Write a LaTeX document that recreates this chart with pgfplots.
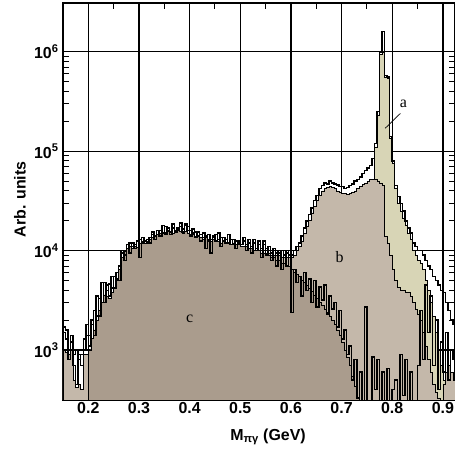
\documentclass[border=0pt]{standalone}
\usepackage{fontspec}
\setmainfont{Liberation Sans}
\newfontfamily\serifletters{Liberation Serif}
\usepackage{pgfplots}
\pgfplotsset{compat=1.18}
\definecolor{fillA}{RGB}{216,213,182}
\definecolor{fillB}{RGB}{196,184,170}
\definecolor{fillC}{RGB}{170,156,141}

\begin{document}
\begin{tikzpicture}
\begin{axis}[
  scale only axis, width=392bp, height=397bp,
  xmin=0.15, xmax=0.924,
  ymode=log, ymin=315, ymax=3.1e6,
  xtick={0.2,0.3,0.4,0.5,0.6,0.7,0.8,0.9},
  minor x tick num=1,
  ytick={1000,10000,100000,1000000},
  yticklabels={10\textsuperscript{3},10\textsuperscript{4},10\textsuperscript{5},10\textsuperscript{6}},
  grid=major,
  major grid style={black, line width=1.3bp},
  axis line style={line width=1.5bp},
  tick style={black, line width=1bp},
  major tick length=8bp, minor tick length=6bp,
  tick align=inside,
  ticklabel style={font=\bfseries\fontsize{16}{17}\selectfont},
  /pgf/number format/assume math mode=true,
  xticklabel style={/pgf/number format/fixed, /pgf/number format/precision=1, yshift=1bp},
  yticklabel style={xshift=-1bp},
  xlabel={M\textsubscript{πγ} (GeV)},
  ylabel={Arb. units},
  label style={font=\bfseries\fontsize{16}{17}\selectfont},
  xlabel style={at={(axis description cs:0.523,0)}, anchor=north, yshift=-25bp},
  ylabel style={at={(axis description cs:-0.11,0.505)}, anchor=center},
  every axis plot/.append style={const plot},
]
\coordinate (sw) at (rel axis cs:0,0);
\coordinate (ne) at (rel axis cs:1,1);

% a: narrow peak
\addplot[fill=fillA, draw=black, line width=0.6bp] coordinates {
(0.750,10000)(0.755,20000)(0.760,50000)(0.765,110000)(0.770,230000)(0.775,950000)(0.780,1000000)(0.785,560000)(0.790,540000)(0.795,135000)(0.800,75000)(0.805,42000)(0.810,30000)(0.815,25000)(0.820,21000)(0.825,18000)(0.830,15000)(0.835,13000)(0.840,10000)(0.845,9000)(0.850,8000)(0.855,7500)(0.860,6500)(0.865,5000)(0.870,4000)(0.875,3000)(0.880,2200)(0.885,1500)(0.890,1000)(0.895,700)(0.900,500)(0.905,400)(0.910,400)
} \closedcycle;

% b: total background + shoulder
\addplot[fill=fillB, draw=black, line width=0.6bp] coordinates {
(0.150,1000)(0.155,950)(0.160,900)(0.165,1000)(0.170,500)(0.175,420)(0.180,450)(0.185,400)(0.190,900)(0.195,900)
(0.200,1000)(0.205,1300)(0.210,1600)(0.215,2000)(0.220,2500)(0.225,3000)(0.230,3600)(0.235,3500)(0.240,3300)(0.245,3800)(0.250,4200)(0.255,5000)(0.260,6500)(0.265,8500)(0.270,9800)(0.275,10500)(0.280,11000)(0.285,10500)(0.290,11000)(0.295,10800)(0.300,12000)(0.305,12300)(0.310,12000)(0.315,12500)(0.320,13000)(0.325,13500)(0.330,14000)(0.335,14500)(0.340,15000)(0.345,15000)(0.350,14500)(0.355,15500)(0.360,15500)(0.365,15000)(0.370,15500)(0.375,16000)(0.380,15500)(0.385,15000)(0.390,15500)(0.395,15000)(0.400,14500)(0.405,14500)(0.410,14000)(0.415,14000)(0.420,13500)(0.425,13000)(0.430,13500)(0.435,13000)(0.440,12500)(0.445,13000)(0.450,12500)(0.455,12500)(0.460,12000)(0.465,12500)(0.470,12000)(0.475,12000)(0.480,11500)(0.485,12000)(0.490,11500)(0.495,11500)(0.500,11000)(0.505,11000)(0.510,11000)(0.515,10500)(0.520,10500)(0.525,10000)(0.530,10000)(0.535,10000)(0.540,9500)(0.545,9500)
(0.550,9500)(0.555,9500)(0.560,9000)(0.565,9000)(0.570,9000)(0.575,9000)(0.580,8500)(0.585,8500)(0.590,8500)(0.595,8500)(0.600,8500)(0.605,9000)(0.610,10000)(0.615,11000)(0.620,12500)(0.625,15000)(0.630,17500)(0.635,20000)(0.640,24000)(0.645,28000)(0.650,32000)(0.655,36000)(0.660,40000)(0.665,42000)(0.670,43000)(0.675,44000)(0.680,43000)(0.685,42000)(0.690,40000)(0.695,39000)(0.700,38000)(0.705,38000)(0.710,37000)(0.715,38000)(0.720,39000)(0.725,40000)(0.730,42000)(0.735,44000)(0.740,46000)(0.745,48000)(0.750,50000)(0.755,52000)(0.760,52000)(0.765,52000)(0.770,50000)(0.775,48000)(0.780,45000)
(0.785,14000)(0.790,12000)(0.795,9000)(0.800,6500)(0.805,5000)(0.810,4300)(0.815,4000)(0.820,4000)(0.825,3800)(0.830,3800)(0.835,3500)(0.840,3000)(0.845,2600)(0.850,2300)(0.855,2000)(0.860,1500)(0.865,1100)(0.870,800)(0.875,600)(0.880,450)(0.885,380)(0.890,330)(0.895,300)(0.900,450)(0.905,600)(0.910,700)(0.915,600)(0.920,500)(0.925,500)
} \closedcycle;

% c: broad hump
\addplot[fill=fillC, draw=black, line width=0.6bp] coordinates {
(0.200,1000)(0.205,1300)(0.210,1600)(0.215,2000)(0.220,2500)(0.225,3000)(0.230,3600)(0.235,3500)(0.240,3300)(0.245,3800)(0.250,4200)(0.255,5000)(0.260,6500)(0.265,8500)(0.270,9800)(0.275,10500)(0.280,11000)(0.285,10500)(0.290,11000)(0.295,10800)(0.300,12000)(0.305,12300)(0.310,12000)(0.315,12500)(0.320,13000)(0.325,13500)(0.330,14000)(0.335,14500)(0.340,15000)(0.345,15000)(0.350,14500)(0.355,15500)(0.360,15500)(0.365,15000)(0.370,15500)(0.375,16000)(0.380,15500)(0.385,15000)(0.390,15500)(0.395,15000)(0.400,14500)(0.405,14500)(0.410,14000)(0.415,14000)(0.420,13500)(0.425,13000)(0.430,13500)(0.435,13000)(0.440,12500)(0.445,13000)(0.450,12500)(0.455,12500)(0.460,12000)(0.465,12500)(0.470,12000)(0.475,12000)(0.480,11500)(0.485,12000)(0.490,11500)(0.495,11500)(0.500,11000)(0.505,11000)(0.510,11000)(0.515,10500)(0.520,10500)(0.525,10000)(0.530,10000)(0.535,10000)(0.540,9500)(0.545,9500)(0.550,9000)(0.555,9000)(0.560,8500)(0.565,8500)(0.570,8000)(0.575,8000)(0.580,7500)(0.585,7500)(0.590,7000)(0.595,7000)(0.600,6500)(0.605,6000)(0.610,5800)(0.615,5500)(0.620,5000)(0.625,4800)(0.630,4500)(0.635,4200)(0.640,3900)(0.645,3600)(0.650,3300)(0.655,3000)(0.660,2800)(0.665,2600)(0.670,2400)(0.675,2200)(0.680,2000)(0.685,1800)(0.690,1600)(0.695,1400)(0.700,1200)(0.705,1000)(0.710,850)(0.715,700)(0.720,550)(0.725,430)(0.730,330)(0.735,250)(0.740,250)
} \closedcycle;

% data, upper histogram
\addplot[black, line width=1.5bp] coordinates {
(0.150,1700)(0.155,1600)(0.160,1000)(0.165,1200)(0.170,900)(0.175,1000)(0.180,800)(0.185,900)(0.190,1000)(0.195,1400)(0.200,1400)(0.205,1800)(0.210,2500)(0.215,2200)(0.220,3300)(0.225,3000)(0.230,4800)(0.235,4000)(0.240,4600)(0.245,4200)(0.250,5500)(0.255,5200)(0.260,7000)(0.265,9500)(0.270,9000)(0.275,10500)(0.280,12000)(0.285,11000)(0.290,11500)(0.295,12500)(0.300,13000)(0.305,12000)(0.310,12500)(0.315,12000)(0.320,13500)(0.325,15500)(0.330,14000)(0.335,14500)(0.340,16000)(0.345,15000)(0.350,17500)(0.355,16000)(0.360,15500)(0.365,17000)(0.370,15500)(0.375,16500)(0.380,17500)(0.385,16500)(0.390,18500)(0.395,16000)(0.400,16000)(0.405,15000)(0.410,15500)(0.415,14000)(0.420,14500)(0.425,13500)(0.430,14000)(0.435,12500)(0.440,13000)(0.445,13500)(0.450,14500)(0.455,13000)(0.460,13500)(0.465,12500)(0.470,13000)(0.475,12000)(0.480,13000)(0.485,11500)(0.490,12500)(0.495,12000)(0.500,11500)(0.505,12500)(0.510,11500)(0.515,13000)(0.520,11000)(0.525,12000)(0.530,10500)(0.535,12500)(0.540,10500)(0.545,11500)(0.550,10500)(0.555,11000)(0.560,9500)(0.565,10500)(0.570,9500)(0.575,10000)(0.580,8500)(0.585,9000)(0.590,9500)(0.595,10000)
(0.600,9000)(0.605,10000)(0.610,11000)(0.615,12000)(0.620,14000)(0.625,17000)(0.630,20000)(0.635,23000)(0.640,27000)(0.645,32000)(0.650,36000)(0.655,42000)(0.660,45000)(0.665,48000)(0.670,47000)(0.675,50000)(0.680,48000)(0.685,47000)(0.690,46000)(0.695,44000)(0.700,44000)(0.705,42000)(0.710,43000)(0.715,45000)(0.720,47000)(0.725,50000)(0.730,52000)(0.735,55000)(0.740,60000)(0.745,64000)(0.750,68000)(0.755,72000)(0.760,85000)(0.765,120000)(0.770,250000)(0.775,1000000)(0.780,1600000)(0.785,580000)(0.790,560000)(0.795,140000)(0.800,80000)(0.805,45000)(0.810,35000)(0.815,30000)(0.820,25000)(0.825,20000)(0.830,17000)(0.835,15000)(0.840,12000)(0.845,11000)(0.850,10000)(0.855,10000)(0.860,9000)(0.865,8000)(0.870,7000)(0.875,6500)(0.880,5500)(0.885,5000)(0.890,4500)(0.895,4000)(0.900,3800)(0.905,3000)(0.910,2500)(0.915,2000)(0.920,1800)(0.925,1800)
};

% data, lower histogram
\addplot[black, line width=1.5bp] coordinates {
(0.150,1500)(0.155,1300)(0.160,800)(0.165,1400)(0.170,700)(0.175,450)(0.180,900)(0.185,700)(0.190,1300)(0.195,1800)(0.200,1100)(0.205,2000)(0.210,1400)(0.215,3500)(0.220,2200)(0.225,4800)(0.230,3000)(0.235,4500)(0.240,3500)(0.245,5500)(0.250,4200)(0.255,6000)(0.260,5000)(0.265,10000)(0.270,8000)(0.275,11500)(0.280,9500)(0.285,12000)(0.290,10500)(0.295,12500)(0.300,8500)(0.305,13500)(0.310,12500)(0.315,13000)(0.320,12000)(0.325,14500)(0.330,13000)(0.335,16000)(0.340,14000)(0.345,18000)(0.350,15000)(0.355,17000)(0.360,14500)(0.365,18500)(0.370,16000)(0.375,17000)(0.380,19000)(0.385,15500)(0.390,18000)(0.395,17500)(0.400,14000)(0.405,16500)(0.410,13500)(0.415,15500)(0.420,12500)(0.425,15000)(0.430,10500)(0.435,14500)(0.440,9500)(0.445,14000)(0.450,12500)(0.455,15000)(0.460,11000)(0.465,13500)(0.470,12000)(0.475,14500)(0.480,11500)(0.485,13000)(0.490,10500)(0.495,12500)(0.500,11500)(0.505,13500)(0.510,10000)(0.515,12000)(0.520,9500)(0.525,13000)(0.530,10000)(0.535,11500)(0.540,8500)(0.545,12500)(0.550,9000)(0.555,11000)(0.560,8000)(0.565,10500)(0.570,7000)(0.575,9500)(0.580,6500)(0.585,10000)(0.590,7000)(0.595,9000)
(0.600,2400)(0.605,6500)(0.610,4800)(0.615,5500)(0.620,3500)(0.625,6000)(0.630,4000)(0.635,5200)(0.640,3000)(0.645,5000)(0.650,2700)(0.655,4300)(0.660,3200)(0.665,4500)(0.670,2300)(0.675,3500)(0.680,2600)(0.685,3000)(0.690,1700)(0.695,2500)(0.700,1300)(0.705,1600)(0.710,900)(0.715,1100)(0.720,500)(0.725,800)(0.730,330)(0.735,600)(0.740,250)(0.745,2700)(0.750,250)(0.755,300)(0.760,850)(0.765,400)(0.770,800)(0.775,250)(0.780,600)(0.785,300)(0.790,650)(0.795,250)(0.800,400)(0.805,500)(0.810,250)(0.815,900)(0.820,350)(0.825,800)(0.830,250)(0.835,600)(0.840,300)(0.845,250)(0.850,700)(0.855,2500)(0.860,800)(0.865,4500)(0.870,1500)(0.875,3500)(0.880,700)(0.885,2000)(0.890,400)(0.895,1200)(0.900,600)(0.905,1500)(0.910,500)(0.915,1000)(0.920,800)(0.925,800)
};

\draw[black, line width=0.7bp] (axis cs:0.786,170000) -- (axis cs:0.816,240000);
\node[font=\serifletters\fontsize{16}{16}\selectfont] at (axis cs:0.822,300000) {a};
\node[font=\serifletters\fontsize{16}{16}\selectfont] at (axis cs:0.696,8700) {b};
\node[font=\serifletters\fontsize{16}{16}\selectfont] at (axis cs:0.400,2050) {c};
\end{axis}
\pgfresetboundingbox
\path[use as bounding box] ([shift={(-63bp,-51bp)}]sw) rectangle ([shift={(0bp,3bp)}]ne);
\end{tikzpicture}
\end{document}
